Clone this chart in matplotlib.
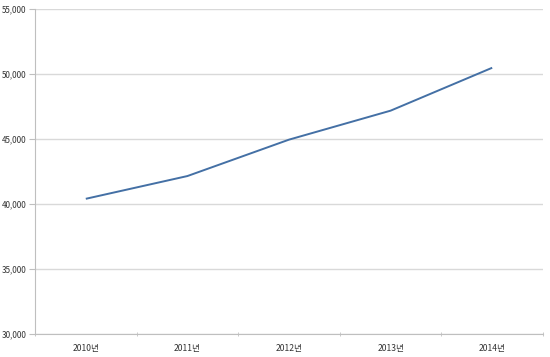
import numpy as np
import matplotlib.pyplot as plt
from matplotlib.ticker import FuncFormatter, FixedLocator

plt.rcParams['font.family'] = ['Noto Sans CJK KR', 'DejaVu Sans']

# data
years = ["2010년", "2011년", "2012년", "2013년", "2014년"]
values = [40400, 42150, 44950, 47180, 50480]
y_ticks = [30000, 35000, 40000, 45000, 50000, 55000]

fig = plt.figure(figsize=(5.5, 3.57), dpi=100)
ax = fig.add_axes([35 / 550, 1 - 334 / 357, 508 / 550, 325 / 357])

x = np.arange(len(years))
ax.plot(x, values, color="#4470A5", linewidth=1.4, solid_capstyle="butt")

ax.set_xlim(-0.5, len(years) - 0.5)
ax.set_ylim(y_ticks[0], y_ticks[-1])

ax.set_yticks(y_ticks)
ax.yaxis.set_major_formatter(FuncFormatter(lambda v, p: f"{int(v):,}"))
ax.grid(axis="y", color="#D9D9D9", linewidth=1)
ax.set_axisbelow(True)

# category labels centred, tick marks on the boundaries
ax.set_xticks(x)
ax.set_xticklabels(years)
ax.xaxis.set_minor_locator(FixedLocator(np.arange(-0.5, len(years), 1.0)))
ax.tick_params(axis="x", which="major", length=0, pad=7, labelsize=6.2)
ax.tick_params(axis="x", which="minor", length=3, color="#BFBFBF", direction="inout")
ax.tick_params(axis="y", length=4, color="#BFBFBF", pad=2, labelsize=5.8)
ax.tick_params(axis="both", labelcolor="#333333")

for side in ["top", "right"]:
    ax.spines[side].set_visible(False)
ax.spines["left"].set_color("#BFBFBF")
ax.spines["bottom"].set_color("#BFBFBF")

fig.savefig("out.png", dpi=100)
